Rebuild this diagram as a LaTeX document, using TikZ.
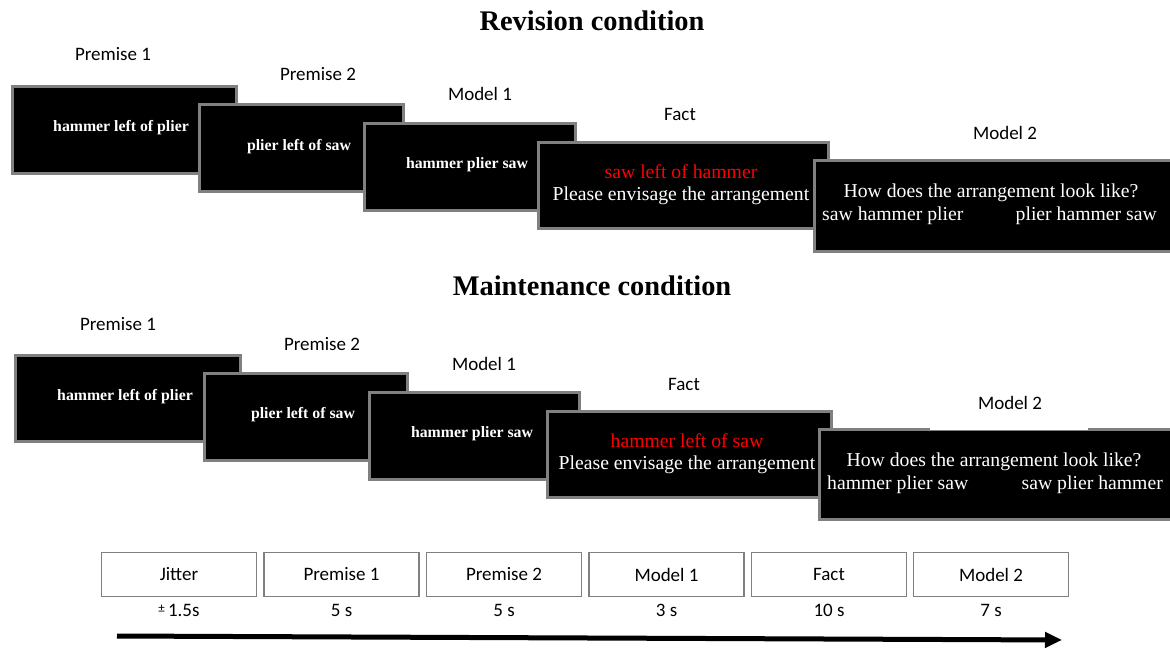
\documentclass[tikz,border=0pt]{standalone}
\usepackage{fontspec}
\setmainfont{Liberation Serif}
\newfontfamily\calib{Carlito}
\usetikzlibrary{arrows.meta}
\definecolor{edgegray}{HTML}{808080}
\tikzset{
  slide/.style={draw=edgegray, line width=2.5pt, fill=black, inner sep=0pt, anchor=north west},
  lbl/.style={font=\calib\fontsize{19}{22}\selectfont, inner sep=0pt},
  smalltxt/.style={text=white, font=\bfseries\fontsize{15.8}{18}\selectfont, inner sep=0pt},
  bigtxt/.style={text=white, font=\fontsize{19.7}{23}\selectfont, inner sep=0pt},
  redtxt/.style={text=red, font=\fontsize{19.7}{23}\selectfont, inner sep=0pt},
  title/.style={font=\bfseries\fontsize{28.4}{32}\selectfont, inner sep=0pt},
  tbox/.style={draw=edgegray, line width=1.6pt, fill=white, minimum width=155pt, minimum height=44pt, inner sep=0pt, font=\calib\fontsize{19}{22}\selectfont},
  dur/.style={font=\calib\fontsize{19}{22}\selectfont, inner sep=0pt}
}
\begin{document}
\begin{tikzpicture}[x=1pt,y=-1pt]
\useasboundingbox (0,0) rectangle (1170,648);

% ---------- Revision condition ----------
\node[title] (t1) at (592,21) {Revision condition};

\node[lbl] (r1l) at (113,54) {Premise 1};
\node[lbl] (r2l) at (318,74) {Premise 2};
\node[lbl] (r3l) at (480,94) {Model 1};
\node[lbl] (r4l) at (680,114) {Fact};
\node[lbl] (r5l) at (1005,133) {Model 2};

\node[slide, minimum width=224pt, minimum height=87pt] (r1) at (11,85) {};
\node[smalltxt] (r1t) at (121,128) {hammer left of plier};
\node[slide, minimum width=204pt, minimum height=87pt] (r2) at (198,103) {};
\node[smalltxt] (r2t) at (299,147) {plier left of saw};
\node[slide, minimum width=211pt, minimum height=87pt] (r3) at (363,122) {};
\node[smalltxt] (r3t) at (467,165) {hammer plier saw};
\node[slide, minimum width=290pt, minimum height=86pt] (r4) at (537,141) {};
\node[redtxt] (r4a) at (681,172) {saw left of hammer};
\node[bigtxt] (r4b) at (681,196) {Please envisage the arrangement};
\node[slide, minimum width=357pt, minimum height=91pt] (r5) at (813,159) {};
\node[bigtxt] (r5a) at (991,193) {How does the arrangement look like?};
\node[bigtxt, anchor=west] (r5b) at (822,216) {saw hammer plier};
\node[bigtxt, anchor=east] (r5c) at (1157,216) {plier hammer saw};

% ---------- Maintenance condition ----------
\node[title] (t2) at (592,286) {Maintenance condition};

\node[lbl] (m1l) at (118,324) {Premise 1};
\node[lbl] (m2l) at (322,344) {Premise 2};
\node[lbl] (m3l) at (484,364) {Model 1};
\node[lbl] (m4l) at (684,384) {Fact};

\node[slide, minimum width=225pt, minimum height=86pt] (m1) at (14,354) {};
\node[smalltxt] (m1t) at (125,397) {hammer left of plier};
\node[slide, minimum width=203pt, minimum height=87pt] (m2) at (203,372) {};
\node[smalltxt] (m2t) at (303,415) {plier left of saw};
\node[slide, minimum width=210pt, minimum height=87pt] (m3) at (368,391) {};
\node[smalltxt] (m3t) at (472,434) {hammer plier saw};
\node[slide, minimum width=284pt, minimum height=86pt] (m4) at (546,410) {};
\node[redtxt] (m4a) at (687,441) {hammer left of saw};
\node[bigtxt] (m4b) at (687,465) {Please envisage the arrangement};
\node[slide, minimum width=352pt, minimum height=90pt] (m5) at (818,428) {};
\node[lbl, fill=white, minimum width=158pt, minimum height=38pt, anchor=north] (m5l) at (1009,392) {};
\node[lbl] (m5lt) at (1010,403) {Model 2};
\node[bigtxt] (m5a) at (994,462) {How does the arrangement look like?};
\node[bigtxt, anchor=west] (m5b) at (827,485) {hammer plier saw};
\node[bigtxt, anchor=east] (m5c) at (1163,485) {saw plier hammer};

% ---------- Timeline ----------
\node[tbox] (j) at (179,574.5) {Jitter};
\node[tbox] (p1) at (341.5,574.5) {Premise 1};
\node[tbox] (p2) at (504,574.5) {Premise 2};
\node[tbox] (mo1) at (666.5,574.5) {Model 1};
\node[tbox] (f) at (829,574.5) {Fact};
\node[tbox] (mo2) at (991,574.5) {Model 2};

\node[dur] (dj) at (179,610) {\raisebox{4pt}{\fontsize{13}{13}\selectfont ±}\,1.5s};
\node[dur] (dp1) at (341.5,610) {5 s};
\node[dur] (dp2) at (504,610) {5 s};
\node[dur] (dm1) at (666.5,610) {3 s};
\node[dur] (df) at (829,610) {10 s};
\node[dur] (dm2) at (991,610) {7 s};

\coordinate (a0) at (117,636);
\coordinate (a1) at (1062,640);
\draw[line width=5pt, -{Triangle[length=17pt,width=15pt]}] (a0) -- (a1);
\end{tikzpicture}
\end{document}
